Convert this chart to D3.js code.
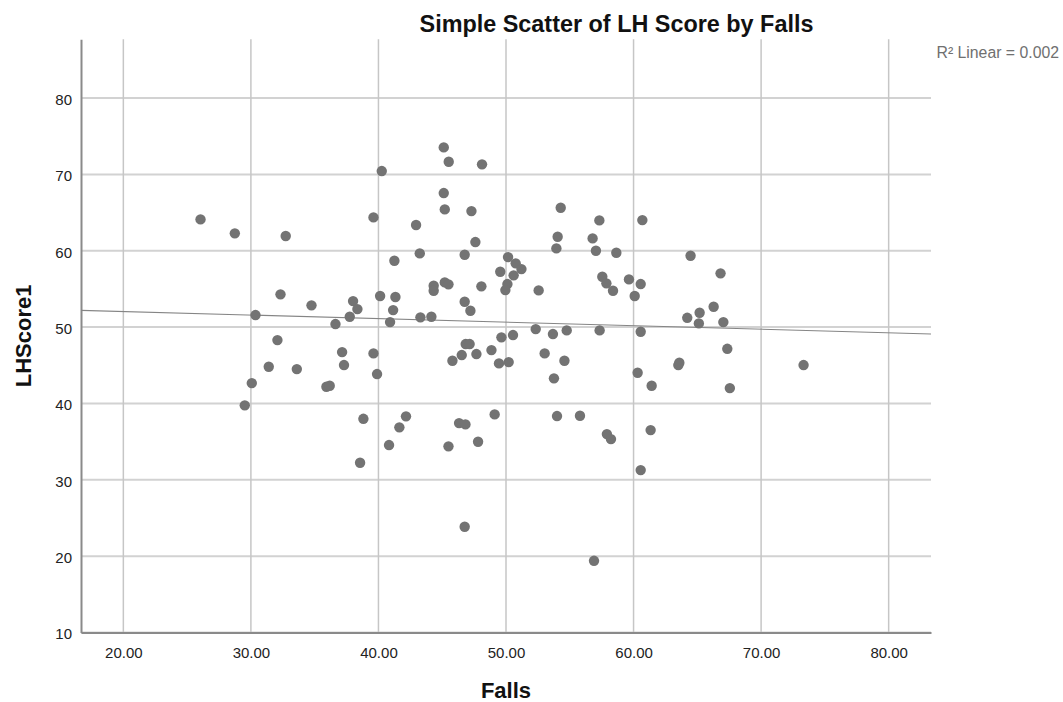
<!DOCTYPE html>
<html>
<head>
<meta charset="utf-8">
<script src="https://cdn.jsdelivr.net/npm/d3@7"></script>
<style>
  html, body { margin: 0; padding: 0; background: #fff; }
  svg { display: block; font-family: Arial, "Liberation Sans", sans-serif; }
</style>
</head>
<body>
<svg id="chart" width="1063" height="702"></svg>
<script>
// values
const falls = [
  26.05, 28.74, 32.73, 39.61, 40.26, 42.95, 45.12, 45.51, 48.12, 45.12,
  45.20, 47.29, 47.60, 43.24, 46.76, 41.25, 49.55, 32.32, 34.75, 38.01,
  38.35, 37.75, 36.63, 30.36, 40.13, 41.33, 41.15, 40.91, 43.29, 44.15,
  44.33, 44.33, 45.20, 45.49, 48.07, 46.76, 47.21, 54.29, 57.32, 60.69,
  54.05, 53.95, 56.79, 57.05, 58.65, 50.16, 50.76, 51.21, 50.60, 50.11,
  49.95, 52.56, 57.55, 57.87, 58.39, 59.64, 60.56, 60.09, 64.47, 66.82,
  66.28, 65.18, 64.21, 65.12, 67.04, 32.08, 31.40, 33.60, 30.07, 29.52,
  35.92, 36.18, 37.15, 37.30, 39.61, 39.89, 38.82, 38.56, 40.83, 41.64,
  42.16, 45.80, 46.53, 46.84, 47.15, 47.68, 48.86, 49.45, 45.49, 46.32,
  46.82, 47.81, 49.11, 46.76, 49.64, 50.55, 50.21, 52.33, 53.68, 54.76,
  57.34, 60.56, 53.03, 54.58, 53.76, 60.32, 61.42, 63.51, 63.59, 67.35,
  67.55, 54.00, 55.80, 57.91, 58.23, 61.34, 60.56, 56.90, 73.33
];
const lhScore = [
  64.11, 62.28, 61.93, 64.37, 70.44, 63.37, 73.54, 71.66, 71.32, 67.56,
  65.42, 65.20, 61.14, 59.66, 59.48, 58.69, 57.25, 54.29, 52.85, 53.41,
  52.36, 51.36, 50.40, 51.58, 54.07, 53.94, 52.23, 50.66, 51.28, 51.36,
  55.42, 54.76, 55.86, 55.60, 55.34, 53.32, 52.14, 65.63, 63.98, 64.02,
  61.84, 60.31, 61.62, 60.00, 59.74, 59.17, 58.35, 57.60, 56.78, 55.64,
  54.85, 54.81, 56.60, 55.73, 54.76, 56.25, 55.64, 54.07, 59.35, 57.04,
  52.67, 51.88, 51.22, 50.49, 50.66, 48.30, 44.81, 44.50, 42.67, 39.75,
  42.19, 42.32, 46.73, 45.03, 46.56, 43.85, 37.99, 32.23, 34.55, 36.87,
  38.31, 45.59, 46.34, 47.78, 47.78, 46.47, 46.99, 45.25, 34.38, 37.43,
  37.26, 34.98, 38.57, 23.85, 48.66, 48.96, 45.42, 49.74, 49.09, 49.57,
  49.57, 49.39, 46.56, 45.59, 43.29, 44.02, 42.32, 45.03, 45.33, 47.16,
  42.01, 38.35, 38.39, 35.99, 35.33, 36.51, 31.27, 19.39, 45.03
];
const xTicks = [20, 30, 40, 50, 60, 70, 80];
const yTicks = [10, 20, 30, 40, 50, 60, 70, 80];
// fit line as drawn: LHScore1 = fitIntercept + fitSlope * Falls
const fitIntercept = 52.97;
const fitSlope = -0.0464;
const r2Label = 'R\u00B2 Linear = 0.002';

const svg = d3.select('#chart');
const plotLeft = 81, plotRight = 931, plotTop = 39.3, plotBottom = 632.5;

const x = d3.scaleLinear().domain([16.68, 83.32]).range([plotLeft, plotRight]);
const y = d3.scaleLinear().domain([10, 87.7]).range([plotBottom, plotTop]);

// grid
svg.append('g')
  .selectAll('line')
  .data(yTicks)
  .enter().append('line')
  .attr('x1', plotLeft).attr('x2', plotRight)
  .attr('y1', d => y(d)).attr('y2', d => y(d))
  .attr('stroke', '#d2d2d2')
  .attr('stroke-width', 2);

svg.append('g')
  .selectAll('line')
  .data(xTicks)
  .enter().append('line')
  .attr('x1', d => x(d)).attr('x2', d => x(d))
  .attr('y1', plotTop).attr('y2', plotBottom)
  .attr('stroke', '#c6c6c6')
  .attr('stroke-width', 1.5);

// axes
const xAxis = svg.append('g')
  .attr('transform', 'translate(0,' + plotBottom + ')')
  .call(d3.axisBottom(x).tickValues(xTicks).tickSize(0).tickPadding(15).tickFormat(d3.format('.2f')));
xAxis.select('.domain').attr('stroke', '#8a8a8a').attr('stroke-width', 2);
xAxis.selectAll('text').attr('font-size', 15).attr('fill', '#222').attr('font-family', 'Arial, "Liberation Sans", sans-serif');

const yAxis = svg.append('g')
  .attr('transform', 'translate(' + plotLeft + ',0)')
  .call(d3.axisLeft(y).tickValues(yTicks).tickSize(0).tickPadding(9));
yAxis.select('.domain').attr('stroke', '#8a8a8a').attr('stroke-width', 2);
yAxis.selectAll('text').attr('font-size', 15).attr('fill', '#222').attr('dy', '0.42em')
  .attr('font-family', 'Arial, "Liberation Sans", sans-serif');

// fit line
svg.append('line')
  .attr('x1', x(x.domain()[0])).attr('y1', y(fitIntercept + fitSlope * x.domain()[0]))
  .attr('x2', x(x.domain()[1])).attr('y2', y(fitIntercept + fitSlope * x.domain()[1]))
  .attr('stroke', '#858585')
  .attr('stroke-width', 1.1);

// points
svg.append('g')
  .selectAll('circle')
  .data(falls)
  .enter().append('circle')
  .attr('cx', d => x(d))
  .attr('cy', (d, i) => y(lhScore[i]))
  .attr('r', 5.2)
  .attr('fill', '#737373');

// texts
svg.append('text')
  .attr('x', 616.5).attr('y', 31.5)
  .attr('text-anchor', 'middle')
  .attr('font-size', 23.4).attr('font-weight', 'bold').attr('fill', '#111')
  .text('Simple Scatter of LH Score by Falls');

svg.append('text')
  .attr('x', (plotLeft + plotRight) / 2).attr('y', 698)
  .attr('text-anchor', 'middle')
  .attr('font-size', 22).attr('font-weight', 'bold').attr('fill', '#111')
  .text('Falls');

svg.append('text')
  .attr('transform', 'translate(31,' + (plotTop + plotBottom) / 2 + ') rotate(-90)')
  .attr('text-anchor', 'middle')
  .attr('font-size', 22).attr('font-weight', 'bold').attr('fill', '#111')
  .text('LHScore1');

svg.append('text')
  .attr('x', 1059).attr('y', 58)
  .attr('text-anchor', 'end')
  .attr('font-size', 15.8).attr('fill', '#707070')
  .text(r2Label);
</script>
</body>
</html>
